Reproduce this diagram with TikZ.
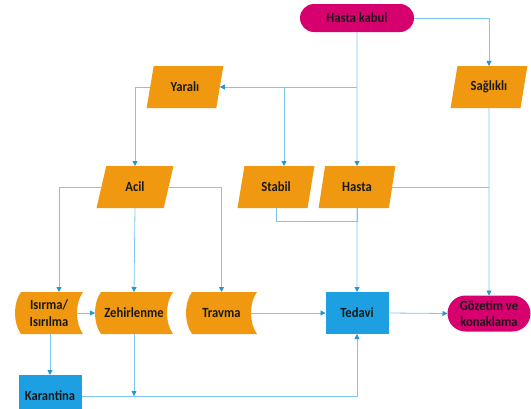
\documentclass[tikz,border=0pt]{standalone}
\usepackage{fontspec}
\setmainfont{Carlito}[FakeStretch=0.9]
\usetikzlibrary{shapes.geometric,arrows.meta,calc}
\definecolor{orF}{RGB}{240,152,16}
\definecolor{mgF}{RGB}{214,0,111}
\definecolor{blF}{RGB}{28,160,225}
\definecolor{lnC}{RGB}{125,198,236}
\definecolor{arC}{RGB}{35,150,215}
\begin{document}
\begin{tikzpicture}[x=1pt,y=-1pt,
  every node/.style={font=\fontsize{14}{16.5}\selectfont\bfseries, text=black!90, align=center, inner sep=0pt, outer sep=0pt},
  pill/.style={rectangle, fill=mgF, rounded corners=#1},
  para/.style={trapezium, trapezium left angle=72, trapezium right angle=108, trapezium stretches=true, fill=orF, minimum width=77pt, minimum height=42pt},
  sdata/.style={rectangle, minimum height=42pt, path picture={
    \fill[orF] let \p1=(path picture bounding box.south west), \p2=(path picture bounding box.north east) in
      (\x1+6pt,\y1) -- (\x2,\y1) .. controls (\x2-8pt,\y1+11pt) and (\x2-8pt,\y2-11pt) .. (\x2,\y2)
      -- (\x1+6pt,\y2) .. controls (\x1-2pt,\y2-11pt) and (\x1-2pt,\y1+11pt) .. (\x1+6pt,\y1) -- cycle;}},
  boxb/.style={rectangle, fill=blF, minimum width=63pt, minimum height=42pt},
  conn/.style={draw=lnC, line width=0.8pt},
  arr/.style={conn, -{Triangle[length=5pt,width=5pt,color=arC]}}
]
\useasboundingbox (0,0) rectangle (531,408);
\clip (0,0) rectangle (531,408);
% nodes
\node[pill=14pt, minimum width=114pt, minimum height=28pt] (kabul) at (357,18) {Hasta kabul};
\node[para] (saglikli) at (489,87) {Sağlıklı};
\node[para] (yarali) at (185,87) {Yaralı};
\node[para] (acil) at (135,187) {Acil};
\node[para] (stabil) at (276,187) {Stabil};
\node[para] (hasta) at (357,187) {Hasta};
\node[sdata, minimum width=68pt] (isirma) at (49,313) {Isırma/\\Isırılma};
\node[sdata, minimum width=78pt] (zehir) at (134,313) {Zehirlenme};
\node[sdata, minimum width=71pt] (travma) at (221.5,313) {Travma};
\node[boxb] (tedavi) at (357,313) {Tedavi};
\node[pill=18pt, minimum width=83pt, minimum height=36pt] (gozetim) at (489,313.5) {Gözetim ve\\konaklama};
\node[boxb] (karantina) at (50,396) {Karantina};
% connectors
\draw[arr] (kabul.east) -| (saglikli.north);
\draw[arr] (kabul.south) -- (hasta.north);
\draw[arr] (kabul.south |- yarali.right side) -- (yarali.right side);
\draw[arr] ([xshift=8pt]stabil.north |- yarali.right side) -- ([xshift=8pt]stabil.north);
\draw[arr] (yarali.left side) -| (acil.north);
\draw[arr] (acil.left side) -| ([xshift=10pt]isirma.north);
\draw[arr] (acil.right side) -| (travma.north);
\draw[arr] (acil.south) -- (zehir.north);
\draw[conn] (stabil.south) -- ++(0,13) -| (hasta.south);
\draw[arr] (hasta.south) -- (tedavi.north);
\draw[conn] (hasta.right side) -- (hasta.right side -| saglikli.south);
\draw[arr] (saglikli.south) -- (gozetim.north);
\draw[arr] ([xshift=-6pt]isirma.east) -- (zehir.west);
\draw[arr] ([xshift=-6pt]travma.east) -- (tedavi.west);
\draw[arr] (tedavi.east) -- (gozetim.west);
\draw[arr] (karantina.north |- isirma.south) -- (karantina.north);
\draw[arr] (karantina.east) -| (tedavi.south);
\draw[arr] (zehir.south) -- (zehir.south |- karantina.east);
\end{tikzpicture}
\end{document}
